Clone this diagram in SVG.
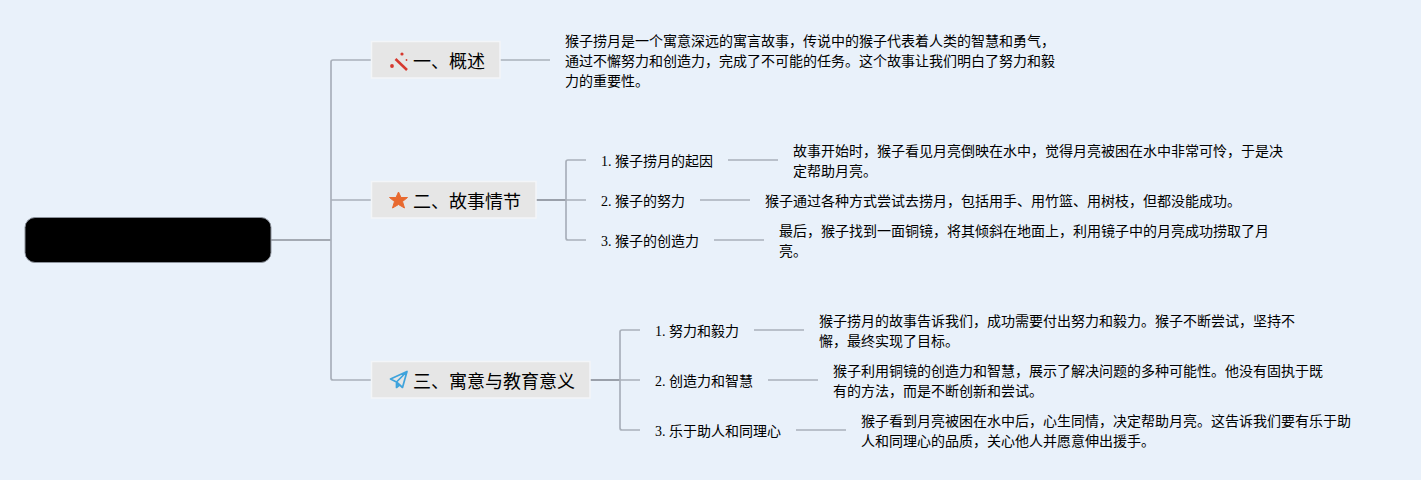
<svg xmlns="http://www.w3.org/2000/svg" width="1421" height="480" viewBox="0 0 1421 480">
<style>
text{font-family:"Liberation Serif","Noto Sans CJK SC",serif;fill:#000}
.t{font-size:18px}
.s{font-size:14px}
.b{fill:#e6e6e6;stroke:#f3f5f8;stroke-width:1.5}
.c{fill:none;stroke:#a9b0ba;stroke-width:1.7}
.d{fill:none;stroke:#8c929b;stroke-width:1.7}
</style>
<rect width="1421" height="480" fill="#e9f1fa"/>
<g id="connectors">
<path class="d" d="M271 240H331"/>
<path class="c" d="M371 60H333Q331 60 331 62V378Q331 380 333 380H371M331 200H371"/>
<path class="c" d="M500 60H550"/>
<path class="d" d="M536 200H566"/>
<path class="c" d="M586 160H568Q566 160 566 162V238Q566 240 568 240H586M566 200H586"/>
<path class="c" d="M728 160H778M700 200H750M714 240H764"/>
<path class="d" d="M590 380H620"/>
<path class="c" d="M640 330H622Q620 330 620 332V428Q620 430 622 430H640M620 380H640"/>
<path class="c" d="M754 330H804M768 380H818M796 430H846"/>
</g>
<g id="root"><rect x="25" y="217.500" width="246" height="45" rx="10" fill="#000" stroke="#8c929b" stroke-width="1"/></g>
<g id="n1"><rect class="b" x="371.500" y="41.500" width="128.500" height="36.500"/>
<g fill="#d6382e"><path d="M395.500 59L407 70" stroke="#d6382e" stroke-width="2.500"/><circle cx="402" cy="54" r="1.600"/><circle cx="406.500" cy="60" r="0.900"/><circle cx="392" cy="66" r="1.900"/></g>
<text class="t" x="413" y="67.500">一、概述</text></g>
<g id="n2"><rect class="b" x="371.500" y="181.500" width="164.500" height="36.500"/>
<path d="M398.500 192L401 197.500H407.500L402.500 201.500L404.500 208L398.500 204.500L392.500 208L394.500 201.500L389.500 197.500H396Z" fill="#e8692f" stroke="#e8692f" stroke-linejoin="round"/>
<text class="t" x="413" y="207.500">二、故事情节</text></g>
<g id="n3"><rect class="b" x="371.500" y="361.500" width="218.500" height="36.500"/>
<path d="M390.500 379L407 371.500L402.500 387.500L396.500 382ZM396.500 382V387.500L400 384.500M396.500 382L407 371.500" fill="none" stroke="#3ea3dc" stroke-width="1.700" stroke-linejoin="round"/>
<text class="t" x="413" y="387.500">三、寓意与教育意义</text></g>
<g id="n1d"><text class="s" x="565" y="46">猴子捞月是一个寓意深远的寓言故事，传说中的猴子代表着人类的智慧和勇气，</text><text class="s" x="565" y="66">通过不懈努力和创造力，完成了不可能的任务。这个故事让我们明白了努力和毅</text><text class="s" x="565" y="86">力的重要性。</text></g>
<g id="n21"><text class="s" x="601" y="166">1. 猴子捞月的起因</text></g>
<g id="n21d"><text class="s" x="793" y="156">故事开始时，猴子看见月亮倒映在水中，觉得月亮被困在水中非常可怜，于是决</text><text class="s" x="793" y="176">定帮助月亮。</text></g>
<g id="n22"><text class="s" x="601" y="206">2. 猴子的努力</text></g>
<g id="n22d"><text class="s" x="765" y="206">猴子通过各种方式尝试去捞月，包括用手、用竹篮、用树枝，但都没能成功。</text></g>
<g id="n23"><text class="s" x="601" y="246">3. 猴子的创造力</text></g>
<g id="n23d"><text class="s" x="779" y="236">最后，猴子找到一面铜镜，将其倾斜在地面上，利用镜子中的月亮成功捞取了月</text><text class="s" x="779" y="256">亮。</text></g>
<g id="n31"><text class="s" x="655" y="336">1. 努力和毅力</text></g>
<g id="n31d"><text class="s" x="819" y="326">猴子捞月的故事告诉我们，成功需要付出努力和毅力。猴子不断尝试，坚持不</text><text class="s" x="819" y="346">懈，最终实现了目标。</text></g>
<g id="n32"><text class="s" x="655" y="386">2. 创造力和智慧</text></g>
<g id="n32d"><text class="s" x="833" y="376">猴子利用铜镜的创造力和智慧，展示了解决问题的多种可能性。他没有固执于既</text><text class="s" x="833" y="396">有的方法，而是不断创新和尝试。</text></g>
<g id="n33"><text class="s" x="655" y="436">3. 乐于助人和同理心</text></g>
<g id="n33d"><text class="s" x="861" y="426">猴子看到月亮被困在水中后，心生同情，决定帮助月亮。这告诉我们要有乐于助</text><text class="s" x="861" y="446">人和同理心的品质，关心他人并愿意伸出援手。</text></g>
</svg>
